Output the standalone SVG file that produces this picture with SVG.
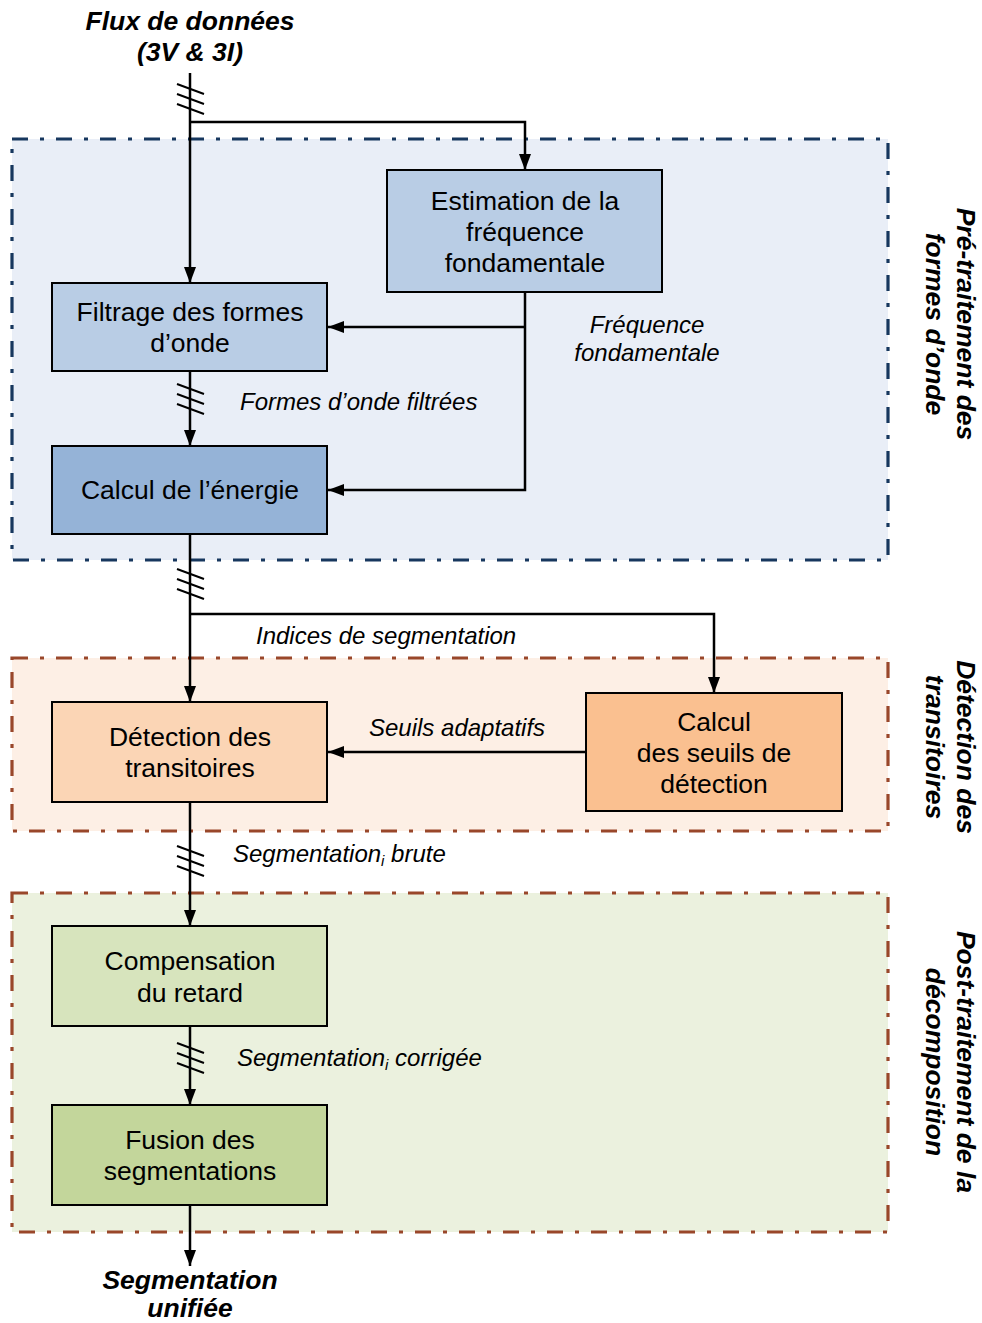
<svg xmlns="http://www.w3.org/2000/svg" width="982" height="1323" viewBox="0 0 982 1323">
<defs>
<marker id="arr" viewBox="0 0 16 12" refX="16" refY="6" markerWidth="16" markerHeight="12" markerUnits="userSpaceOnUse" orient="auto">
<path d="M0,0 L16,6 L0,12 Z" fill="#000"/>
</marker>
</defs>
<style>
.reg{stroke-width:3.2;stroke-dasharray:16 12 4 12}
.node{stroke:#000;stroke-width:2}
.nt{font-family:"Liberation Sans",Arial,sans-serif;font-size:26.5px;fill:#000;text-anchor:middle}
.lab{font-family:"Liberation Sans",Arial,sans-serif;font-size:24px;font-style:italic;fill:#000}
.tit{font-family:"Liberation Sans",Arial,sans-serif;font-size:26.5px;font-style:italic;font-weight:bold;fill:#000;text-anchor:middle}
.ln{stroke:#000;stroke-width:2.5;fill:none}
.tk{stroke:#000;stroke-width:2;fill:none}
</style>

<g id="regions">
<rect id="reg-pre" class="reg" x="12" y="139" width="876" height="421" fill="#e9eef7" stroke="#17375e"/>
<rect id="reg-det" class="reg" x="12" y="658" width="876" height="173" fill="#fdefe5" stroke="#99472a"/>
<rect id="reg-post" class="reg" x="12" y="893" width="876" height="339" fill="#ebf1de" stroke="#99472a"/>
</g>

<g id="connectors">
<path class="ln" d="M190,73 V283" marker-end="url(#arr)"/>
<path class="ln" d="M190,122 H525 V170" marker-end="url(#arr)"/>
<path class="ln" d="M525,292 V490 H328" marker-end="url(#arr)"/>
<path class="ln" d="M525,327 H328" marker-end="url(#arr)"/>
<path class="ln" d="M190,371 V446" marker-end="url(#arr)"/>
<path class="ln" d="M190,534 V702" marker-end="url(#arr)"/>
<path class="ln" d="M190,614 H714 V693" marker-end="url(#arr)"/>
<path class="ln" d="M586,752 H328" marker-end="url(#arr)"/>
<path class="ln" d="M190,802 V926" marker-end="url(#arr)"/>
<path class="ln" d="M190,1026 V1105" marker-end="url(#arr)"/>
<path class="ln" d="M190,1205 V1266" marker-end="url(#arr)"/>
<g id="ticks">
<path class="tk" d="M177,84 L204,94 M177,94 L204,104 M177,104 L204,114"/>
<path class="tk" d="M177,384 L204,394 M177,394 L204,404 M177,404 L204,414"/>
<path class="tk" d="M177,569 L204,579 M177,579 L204,589 M177,589 L204,599"/>
<path class="tk" d="M177,846 L204,856 M177,856 L204,866 M177,866 L204,876"/>
<path class="tk" d="M177,1043 L204,1053 M177,1053 L204,1063 M177,1063 L204,1073"/>
</g>
</g>

<g id="n-estimation">
<rect class="node" x="387" y="170" width="275" height="122" fill="#b9cde5"/>
<text class="nt" x="525" y="210">Estimation de la</text>
<text class="nt" x="525" y="241">fréquence</text>
<text class="nt" x="525" y="272">fondamentale</text>
</g>
<g id="n-filtrage">
<rect class="node" x="52" y="283" width="275" height="88" fill="#b9cde5"/>
<text class="nt" x="190" y="321">Filtrage des formes</text>
<text class="nt" x="190" y="352">d’onde</text>
</g>
<g id="n-energie">
<rect class="node" x="52" y="446" width="275" height="88" fill="#95b3d7"/>
<text class="nt" x="190" y="499">Calcul de l’énergie</text>
</g>
<g id="n-detection">
<rect class="node" x="52" y="702" width="275" height="100" fill="#fbd5b5"/>
<text class="nt" x="190" y="746">Détection des</text>
<text class="nt" x="190" y="777">transitoires</text>
</g>
<g id="n-seuils">
<rect class="node" x="586" y="693" width="256" height="118" fill="#fac090"/>
<text class="nt" x="714" y="731">Calcul</text>
<text class="nt" x="714" y="762">des seuils de</text>
<text class="nt" x="714" y="793">détection</text>
</g>
<g id="n-compensation">
<rect class="node" x="52" y="926" width="275" height="100" fill="#d7e4bd"/>
<text class="nt" x="190" y="970">Compensation</text>
<text class="nt" x="190" y="1002">du retard</text>
</g>
<g id="n-fusion">
<rect class="node" x="52" y="1105" width="275" height="100" fill="#c3d69b"/>
<text class="nt" x="190" y="1149">Fusion des</text>
<text class="nt" x="190" y="1180">segmentations</text>
</g>

<g id="labels">
<text class="tit" x="190" y="30">Flux de données</text>
<text class="tit" x="190" y="61">(3V &amp; 3I)</text>
<text class="tit" x="190" y="1289">Segmentation</text>
<text class="tit" x="190" y="1317">unifiée</text>
<text class="lab" x="647" y="333" text-anchor="middle">Fréquence</text>
<text class="lab" x="647" y="361" text-anchor="middle">fondamentale</text>
<text class="lab" x="240" y="410">Formes d’onde filtrées</text>
<text class="lab" x="256" y="644">Indices de segmentation</text>
<text class="lab" x="369" y="736">Seuils adaptatifs</text>
<text class="lab" x="233" y="862">Segmentation<tspan font-size="15" dy="4">i</tspan><tspan dy="-4"> brute</tspan></text>
<text class="lab" x="237" y="1066">Segmentation<tspan font-size="15" dy="4">i</tspan><tspan dy="-4"> corrigée</tspan></text>
</g>

<g id="side-titles">
<text class="tit" transform="translate(957,324) rotate(90)">Pré-traitement des</text>
<text class="tit" transform="translate(926,324) rotate(90)">formes d’onde</text>
<text class="tit" transform="translate(957,747) rotate(90)">Détection des</text>
<text class="tit" transform="translate(926,747) rotate(90)">transitoires</text>
<text class="tit" transform="translate(957,1062) rotate(90)">Post-traitement de la</text>
<text class="tit" transform="translate(926,1062) rotate(90)">décomposition</text>
</g>
</svg>
